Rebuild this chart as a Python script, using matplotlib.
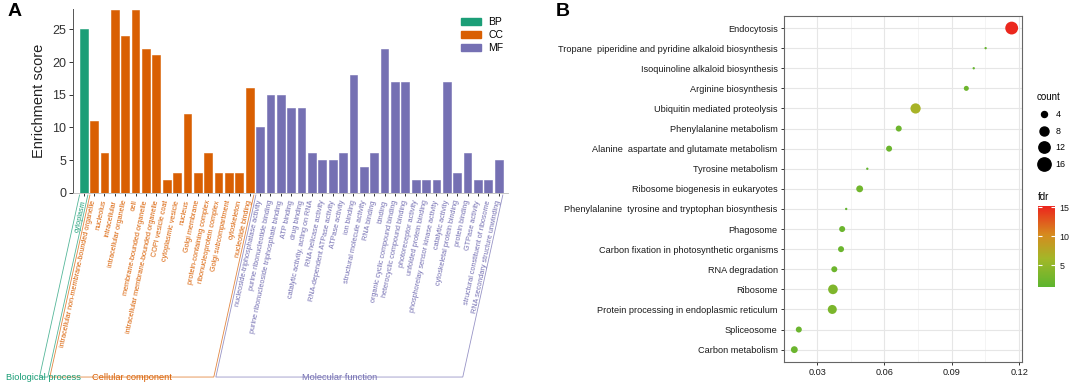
import numpy as np
import matplotlib
matplotlib.use('Agg')
import matplotlib.pyplot as plt
from matplotlib.colors import LinearSegmentedColormap, Normalize
from matplotlib.patches import Patch
from matplotlib.lines import Line2D

plt.rcParams['font.family'] = ['Liberation Sans', 'DejaVu Sans']

# ----- Panel A data -----
bp_terms = ['cytoplasm']
bp_scores = [25]
cc_terms = ['intracellular non-membrane-bounded organelle', 'nucleolus', 'intracellular',
            'intracellular organelle', 'cell', 'membrane-bounded organelle',
            'intracellular membrane-bounded organelle', 'COPI vesicle coat', 'cytoplasmic vesicle',
            'nucleus', 'Golgi membrane', 'protein-containing complex', 'ribonucleoprotein complex',
            'Golgi subcompartment', 'cytoskeleton', 'nucleotide binding']
cc_scores = [11, 6, 28, 24, 28, 22, 21, 2, 3, 12, 3, 6, 3, 3, 3, 16]
mf_terms = ['nucleoside-triphosphatase activity', 'purine ribonucleotide binding',
            'purine ribonucleoside triphosphate binding', 'ATP binding', 'drug binding',
            'catalytic activity, acting on RNA', 'RNA helicase activity',
            'RNA-dependent ATPase activity', 'ATPase activity', 'ion binding',
            'structural molecule activity', 'RNA binding', 'binding',
            'organic cyclic compound binding', 'heterocyclic compound binding',
            'photoreceptor activity', 'unfolded protein binding',
            'phosphorelay sensor kinase activity', 'catalytic activity',
            'cytoskeletal protein binding', 'protein binding', 'GTPase activity',
            'structural constituent of ribosome', 'RNA secondary structure unwinding']
mf_scores = [10, 15, 15, 13, 13, 6, 5, 5, 6, 18, 4, 6, 22, 17, 17, 2, 2, 2, 17, 3, 6, 2, 2, 5]

group_names = ['BP', 'CC', 'MF']
group_labels = ['Biological process', 'Cellular component', 'Molecular function']
group_colors = ['#1B9E77', '#D95F02', '#7570B3']

# ----- Panel B data -----
pathways = ['Endocytosis', 'Tropane  piperidine and pyridine alkaloid biosynthesis',
            'Isoquinoline alkaloid biosynthesis', 'Arginine biosynthesis',
            'Ubiquitin mediated proteolysis', 'Phenylalanine metabolism',
            'Alanine  aspartate and glutamate metabolism', 'Tyrosine metabolism',
            'Ribosome biogenesis in eukaryotes',
            'Phenylalanine  tyrosine and tryptophan biosynthesis', 'Phagosome',
            'Carbon fixation in photosynthetic organisms', 'RNA degradation', 'Ribosome',
            'Protein processing in endoplasmic reticulum', 'Spliceosome', 'Carbon metabolism']
ratio = [0.1167, 0.1051, 0.0998, 0.0965, 0.0739, 0.0664, 0.0621, 0.0524, 0.0490,
         0.0430, 0.0412, 0.0407, 0.0377, 0.0371, 0.0368, 0.0219, 0.0199]
count = [15, 1, 1, 3, 10, 4, 4, 1, 5, 1, 4, 4, 4, 9, 8, 4, 5]
fdr = [15.0, 1.8, 1.8, 2.4, 6.5, 2.4, 2.2, 1.6, 2.6, 1.6, 2.2, 2.2, 2.4, 3.6, 3.3, 2.2, 2.2]
count_legend = [4, 8, 12, 16]

fig = plt.figure(figsize=(10.72, 3.86), dpi=100)

# ================= Panel A =================
ax_a = fig.add_axes([73 / 1072, (386 - 192.7) / 386, 435 / 1072, 183.6 / 386])
groups = [bp_terms, cc_terms, mf_terms]
terms = bp_terms + cc_terms + mf_terms
scores = bp_scores + cc_scores + mf_scores
bar_cols = []
for g, col in zip(groups, group_colors):
    bar_cols += [col] * len(g)
x = np.arange(len(terms))
ax_a.bar(x, scores, width=0.75, color=bar_cols, edgecolor=bar_cols, linewidth=0.4, zorder=2)
ax_a.set_xlim(-1.03, 40.9)
ax_a.set_ylim(0, 28.1)
ax_a.set_yticks([0, 5, 10, 15, 20, 25])
ax_a.tick_params(axis='y', labelsize=9, colors='#333333', length=3, width=0.7, pad=2)
ax_a.set_xticks(x)
ax_a.set_xticklabels(terms, rotation=78, ha='right', va='center', rotation_mode='anchor',
                     fontsize=5.2)
for lbl, col in zip(ax_a.get_xticklabels(), bar_cols):
    lbl.set_color(col)
ax_a.tick_params(axis='x', length=2.5, width=0.7, color='#333333', pad=3)
for s in ['top', 'right']:
    ax_a.spines[s].set_visible(False)
ax_a.spines['left'].set_color('#555555')
ax_a.spines['left'].set_linewidth(0.7)
ax_a.spines['bottom'].set_color('#BBBBBB')
ax_a.spines['bottom'].set_linewidth(0.6)
ax_a.set_ylabel('Enrichment score', fontsize=10.5, color='#222222')
ax_a.yaxis.set_label_coords(-0.062, 0.5)

# group brackets under the axis
trans = ax_a.get_xaxis_transform()
y_top, y_bot = -0.0125, -1.004
shift = -3.86
start = 0
for g, col, glabel in zip(groups, group_colors, group_labels):
    i0, i1 = start, start + len(g) - 1
    xl, xr = i0 - 0.4, i1 + 0.4
    ax_a.plot([xl, xl + shift, xr + shift, xr], [y_top, y_bot, y_bot, y_top],
              color=col, lw=0.6, alpha=0.75, transform=trans, clip_on=False)
    ax_a.text((xl + xr) / 2 + shift, y_bot, glabel, color=col, fontsize=6.7,
              ha='center', va='center', transform=trans, clip_on=False)
    start = i1 + 1

handles = [Patch(facecolor=c, edgecolor=c) for c in group_colors]
ax_a.legend(handles, group_names, loc='upper left', bbox_to_anchor=(457 / 1072, 1 - 13 / 386),
            bbox_transform=fig.transFigure, frameon=False, fontsize=7.5, handlelength=1.9,
            handleheight=0.65, labelspacing=0.3, handletextpad=0.7, borderaxespad=0)

fig.text(15 / 1072, 1 - 12 / 386, 'A', fontsize=14, fontweight='bold', va='center', ha='center')

# ================= Panel B =================
ax_b = fig.add_axes([784 / 1072, (386 - 361.7) / 386, 238 / 1072, 345.7 / 386])
ypos = np.arange(len(pathways))[::-1]


def dot_size(c):
    d_px = 3.65 * np.sqrt(np.asarray(c, dtype=float)) - 1.3
    return (d_px * 0.72) ** 2


cmap = LinearSegmentedColormap.from_list(
    'fdr', [(0, '#5DB52F'), (0.35, '#A3B728'), (0.65, '#D68A1E'), (1, '#EC241D')])
norm = Normalize(1.2, 15.2)
sc = ax_b.scatter(ratio, ypos, s=dot_size(count), c=fdr, cmap=cmap, norm=norm,
                  edgecolors='none', zorder=3)
ax_b.set_xlim(0.0153, 0.1213)
ax_b.set_ylim(-0.6, len(pathways) - 0.4)
ax_b.set_xticks([0.03, 0.06, 0.09, 0.12])
ax_b.set_xticklabels(['0.03', '0.06', '0.09', '0.12'])
ax_b.set_xticks([0.045, 0.075, 0.105], minor=True)
ax_b.set_yticks(ypos)
ax_b.set_yticklabels(pathways)
ax_b.tick_params(axis='both', which='major', labelsize=6.6, labelcolor='#1A1A1A',
                 length=2.5, width=0.7, color='#333333', pad=2)
ax_b.tick_params(axis='x', which='minor', length=0)
ax_b.grid(True, which='major', color='#E6E6E6', lw=0.8, zorder=0)
ax_b.grid(True, which='minor', axis='x', color='#F0F0F0', lw=0.5, zorder=0)
ax_b.set_axisbelow(True)
for s in ax_b.spines.values():
    s.set_color('#666666')
    s.set_linewidth(0.8)

size_handles = [Line2D([], [], ls='none', marker='o', color='black',
                       markersize=np.sqrt(dot_size(c))) for c in count_legend]
ax_b.legend(size_handles, [str(c) for c in count_legend], title='count', loc='upper left',
            bbox_to_anchor=(1037 / 1072, 1 - 92 / 386), bbox_transform=fig.transFigure,
            frameon=False, fontsize=6.4, title_fontsize=7, alignment='left',
            labelspacing=0.88, handletextpad=0.6, borderaxespad=0, borderpad=0,
            handlelength=1.5)

cax = fig.add_axes([1038 / 1072, (386 - 287) / 386, 17 / 1072, 81 / 386])
cb = fig.colorbar(sc, cax=cax, ticks=[5, 10, 15])
cb.outline.set_visible(False)
cax.tick_params(direction='in', length=3, width=0.8, color='white', labelsize=6.4,
                labelcolor='#1A1A1A', left=True, right=True, pad=3)
cax.set_title('fdr', loc='left', fontsize=7, pad=4)

fig.text(563 / 1072, 1 - 12 / 386, 'B', fontsize=14, fontweight='bold', va='center', ha='center')

fig.savefig('out.png', dpi=100)
